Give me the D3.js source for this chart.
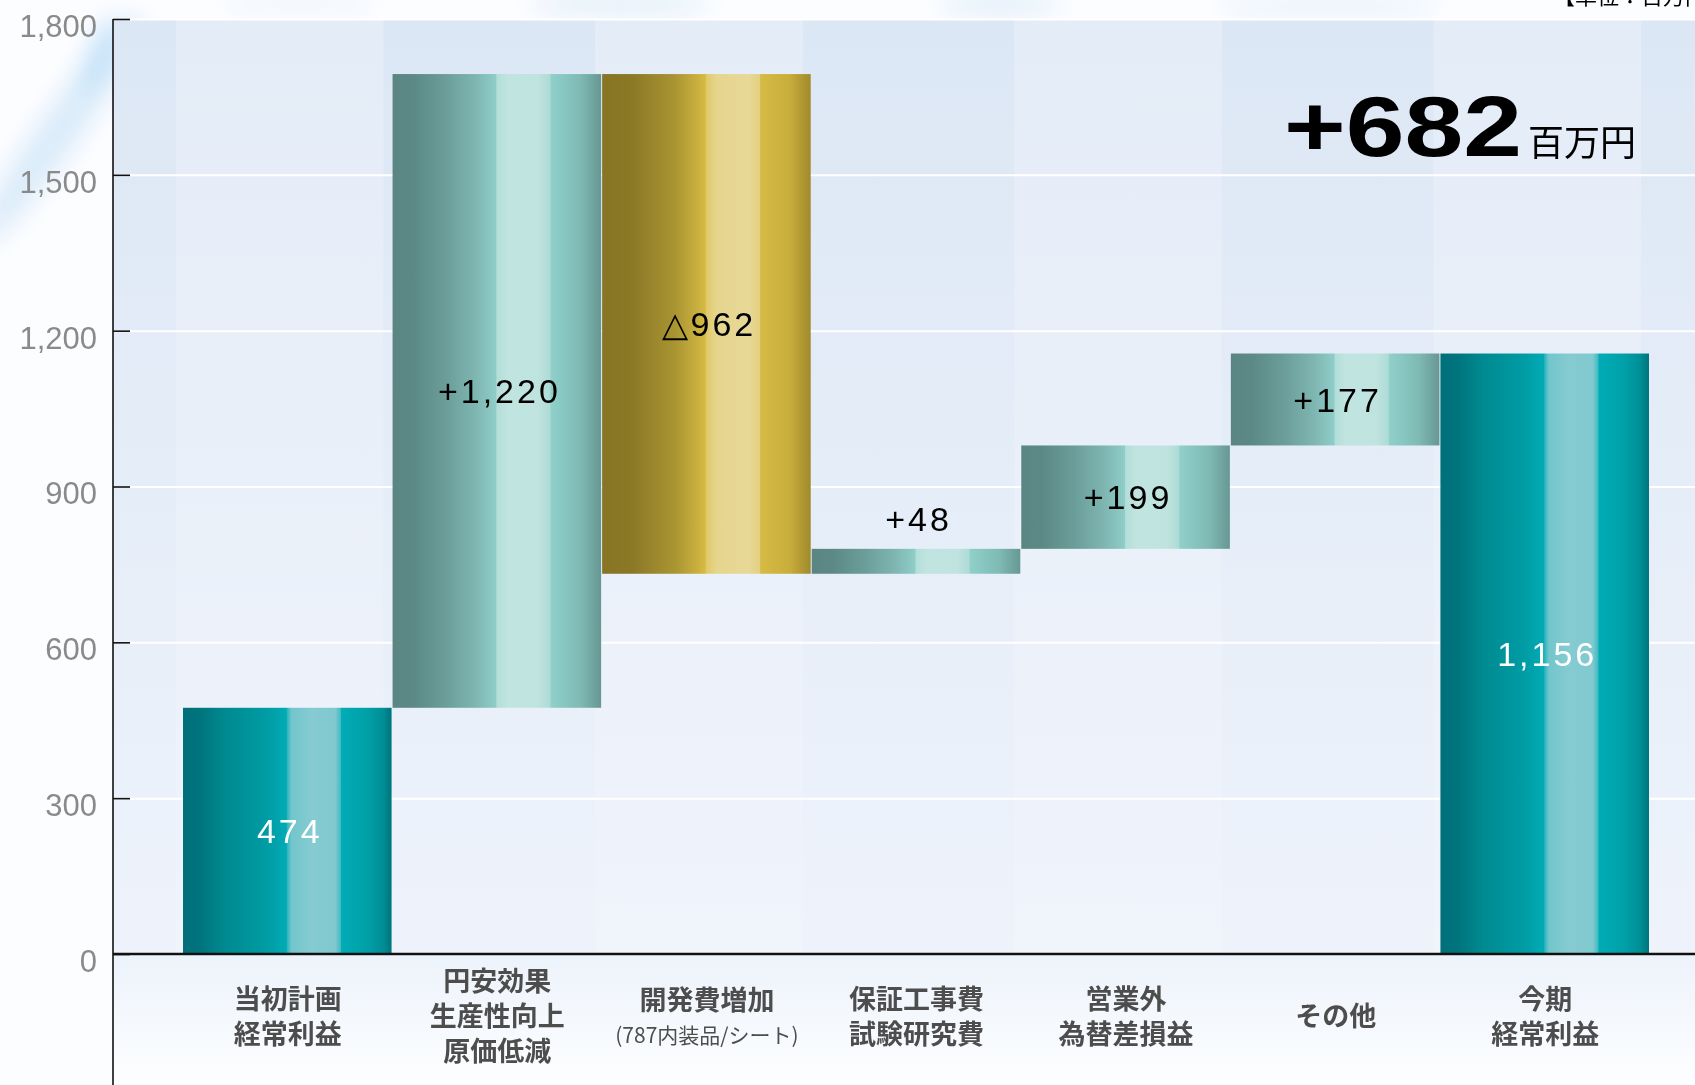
<!DOCTYPE html>
<html>
<head>
<meta charset="utf-8">
<script src="https://cdn.jsdelivr.net/npm/d3@7"></script>
<style>
html, body { margin:0; padding:0; background:#fff; overflow:hidden; }
svg { display:block; }
</style>
</head>
<body>
<div class="viz"></div>
<script>
var categories = ['当初計画\n経常利益', '円安効果\n生産性向上\n原価低減', '開発費増加', '保証工事費\n試験研究費', '営業外\n為替差損益', 'その他', '今期\n経常利益'];
var subLabels = ['', '', '(787内装品/シート)', '', '', '', ''];
var barTypes = ['total', 'up', 'down', 'up', 'up', 'up', 'total'];
var values = [474, 1220, -962, 48, 199, 177, 1156];
var valueLabels = ['474', '+1,220', '△962', '+48', '+199', '+177', '1,156'];
var yTicks = [0, 300, 600, 900, 1200, 1500, 1800];
var unitLabel = '百万円';
var unitNote = '【単位：百万円】';

var width = 1695,
    height = 1085,
    axisX = 113,
    plotTop = 19,
    baseY = 954;

// running totals -> start / end of each bar
var running = 0;
var bars = categories.map(function(c, i){
  var s, e;
  if(barTypes[i] == 'total'){
    s = 0; e = values[i];
  }else{
    s = running; e = running + values[i];
  }
  running = e;
  return {cat:c, sub:subLabels[i], type:barTypes[i], lo:Math.min(s,e), hi:Math.max(s,e), label:valueLabels[i]};
});

var x = d3.scaleBand()
  .domain(categories)
  .range([183, 1650])
  .padding(0);

var y = d3.scaleLinear()
  .domain([0, 1800])
  .range([baseY, plotTop]);

var svg = d3.select('.viz').append('svg')
  .attr('width', width)
  .attr('height', height)
  .style('font-family', '"Liberation Sans", Arial, sans-serif');

var defs = svg.append('defs');

function grad(id, stops, vertical){
  var g = defs.append('linearGradient')
    .attr('id', id)
    .attr('x1', 0).attr('y1', 0)
    .attr('x2', vertical ? 0 : 1)
    .attr('y2', vertical ? 1 : 0);
  g.selectAll('stop')
    .data(stops)
    .enter()
    .append('stop')
    .attr('offset', function(d){ return d[0]; })
    .attr('stop-color', function(d){ return d[1]; });
}

grad('g-total', [
  ['0%', '#00707a'], ['8%', '#00747c'], ['20%', '#008990'], ['40%', '#009ca4'], ['49.5%', '#00abb5'],
  ['50%', '#2db5bd'], ['52%', '#72c6cc'], ['62%', '#85cbd1'], ['73%', '#80c9cf'], ['75.5%', '#45bcc3'],
  ['76%', '#00acb6'], ['88%', '#00a0a8'], ['96%', '#008e95'], ['100%', '#00747b']
]);
grad('g-up', [
  ['0%', '#5a8582'], ['10%', '#5c8986'], ['25%', '#6a9d99'], ['40%', '#7fb6b2'],
  ['49.5%', '#8fcdc8'], ['50%', '#b3ded9'], ['55%', '#c0e4e0'], ['70%', '#bfe3df'],
  ['75.5%', '#aedbd6'], ['76%', '#90d0ca'], ['90%', '#7fbab5'], ['100%', '#679793']
]);
grad('g-down', [
  ['0%', '#877424'], ['15%', '#8b7928'], ['35%', '#aa9532'], ['47%', '#cdb340'],
  ['49.5%', '#d7bb44'], ['50%', '#e0c96a'], ['55%', '#e6d58e'], ['70%', '#e8d898'],
  ['75.5%', '#e3d083'], ['76%', '#d6bb45'], ['90%', '#c7ad3b'], ['100%', '#a08a2c']
]);
grad('g-plot', [['0%', '#dce7f5'], ['100%', '#eef3fb']], true);
grad('g-floor', [['0%', '#edf3fb'], ['100%', '#fdfeff']], true);

defs.append('filter')
  .attr('id', 'blur')
  .attr('x', '-50%').attr('y', '-50%').attr('width', '200%').attr('height', '200%')
  .append('feGaussianBlur')
  .attr('stdDeviation', 12);

/* sky background */
svg.append('rect')
  .attr('width', width).attr('height', height)
  .attr('fill', '#fcfdff');

// [cx, cy, rx, ry, rotation, colour, opacity]
var clouds = [
  [60, 130, 20, 140, 35, '#d3e8f8', 0.85],
  [100, 55, 10, 40, 20, '#a8d5f6', 0.7],
  [620, 4, 90, 10, 0, '#dcebf8', 0.9],
  [1000, 4, 60, 10, 0, '#d8e9f8', 0.8],
  [1330, 6, 110, 10, 0, '#e4eff9', 0.9],
  [300, 4, 80, 8, 0, '#eaf2fa', 0.8]
];
svg.append('g')
  .attr('filter', 'url(#blur)')
  .selectAll('ellipse')
  .data(clouds)
  .enter()
  .append('ellipse')
  .attr('transform', function(d){ return 'translate(' + d[0] + ',' + d[1] + ') rotate(' + d[4] + ')'; })
  .attr('rx', function(d){ return d[2]; })
  .attr('ry', function(d){ return d[3]; })
  .attr('fill', function(d){ return d[5]; })
  .attr('opacity', function(d){ return d[6]; });

/* plot area */
svg.append('rect')
  .attr('x', axisX).attr('y', plotTop)
  .attr('width', width - axisX).attr('height', baseY - plotTop)
  .attr('fill', 'url(#g-plot)');

svg.append('g')
  .selectAll('rect')
  .data(categories.filter(function(d, i){ return i % 2 == 0; }))
  .enter()
  .append('rect')
  .attr('x', function(d){ return x(d) - 7; })
  .attr('y', plotTop)
  .attr('width', x.bandwidth() - 2)
  .attr('height', baseY - plotTop)
  .attr('fill', '#f3f6fd')
  .attr('opacity', 0.35);

svg.append('rect')
  .attr('x', axisX).attr('y', baseY)
  .attr('width', width - axisX).attr('height', height - baseY)
  .attr('fill', 'url(#g-floor)');

/* gridlines */
svg.append('g')
  .attr('transform', 'translate(' + axisX + ',0)')
  .call(d3.axisRight(y).tickValues(yTicks).tickSize(width - axisX).tickFormat(''))
  .call(function(g){
    g.select('.domain').remove();
    g.selectAll('line').attr('stroke', '#ffffff').attr('stroke-width', 2);
  });

/* bars */
svg.append('g')
  .selectAll('rect')
  .data(bars)
  .enter()
  .append('rect')
  .attr('x', function(d){ return x(d.cat); })
  .attr('y', function(d){ return y(d.hi); })
  .attr('width', x.bandwidth() - 1)
  .attr('height', function(d){ return y(d.lo) - y(d.hi); })
  .attr('fill', function(d){ return 'url(#g-' + d.type + ')'; });

/* axes */
svg.append('line')
  .attr('x1', axisX).attr('x2', axisX)
  .attr('y1', plotTop).attr('y2', height)
  .attr('stroke', '#111').attr('stroke-width', 1.6);

svg.append('g')
  .attr('transform', 'translate(' + axisX + ',0)')
  .call(d3.axisLeft(y).tickValues(yTicks).tickSize(-17).tickPadding(16).tickFormat(d3.format(',')))
  .call(function(g){
    g.select('.domain').remove();
    g.selectAll('line').attr('stroke', '#111').attr('stroke-width', 1.6);
    g.selectAll('text')
      .attr('fill', '#8a8a8a')
      .attr('dy', '0.56em')
      .style('font-size', '31px')
      .style('font-family', '"Liberation Sans", Arial, sans-serif');
  });

svg.append('line')
  .attr('x1', axisX).attr('x2', width)
  .attr('y1', baseY).attr('y2', baseY)
  .attr('stroke', '#111').attr('stroke-width', 2.6);

/* value labels */
svg.append('g')
  .selectAll('text')
  .data(bars)
  .enter()
  .append('text')
  .attr('x', function(d){ return x(d.cat) + x.bandwidth() / 2 + 2; })
  .attr('y', function(d){
    var h = y(d.lo) - y(d.hi);
    if(h < 45) return y(d.hi) - 30;
    return (y(d.lo) + y(d.hi)) / 2;
  })
  .attr('dy', '0.36em')
  .attr('text-anchor', 'middle')
  .style('font-size', '34px')
  .style('letter-spacing', '3px')
  .attr('fill', function(d){ return d.type == 'total' ? '#ffffff' : '#000000'; })
  .text(function(d){ return d.label; });

/* category labels: one text per category, lines as tspans */
var catText = svg.append('g')
  .style('font-family', '"Noto Sans CJK JP", "Noto Sans", sans-serif')
  .attr('fill', '#4d4d4d')
  .selectAll('text')
  .data(bars)
  .enter()
  .append('text')
  .attr('text-anchor', 'middle');

catText.each(function(d){
  var t = d3.select(this);
  var lines = d.cat.split('\n');
  var n = lines.length + (d.sub ? 1 : 0);
  var step = d.sub ? 33 : 35;
  var cx = x(d.cat) + x.bandwidth() / 2;
  var y0 = 1017 - (n - 1) * step / 2 + 9;
  lines.forEach(function(l, j){
    t.append('tspan')
      .attr('x', cx)
      .attr('y', y0 + j * step)
      .style('font-size', '27px')
      .style('font-weight', 'bold')
      .text(l);
  });
  if(d.sub){
    t.append('tspan')
      .attr('x', cx)
      .attr('y', y0 + lines.length * step)
      .style('font-size', '21px')
      .text(d.sub);
  }
});

/* difference annotation */
var diff = values[values.length - 1] - values[0];
var note = svg.append('g');
note.append('text')
  .attr('x', 1284)
  .attr('y', 156)
  .attr('textLength', 238)
  .attr('lengthAdjust', 'spacingAndGlyphs')
  .style('font-size', '86px')
  .style('font-weight', 'bold')
  .attr('fill', '#000')
  .text(d3.format('+,')(diff));
note.append('text')
  .attr('x', 1528)
  .attr('y', 156)
  .style('font-size', '36px')
  .style('font-family', '"Noto Sans CJK JP", sans-serif')
  .attr('fill', '#000')
  .text(unitLabel);

svg.append('text')
  .attr('x', 1553)
  .attr('y', 4)
  .style('font-size', '22px')
  .style('font-family', '"Noto Sans CJK JP", sans-serif')
  .attr('fill', '#000')
  .text(unitNote);
</script>
</body>
</html>
